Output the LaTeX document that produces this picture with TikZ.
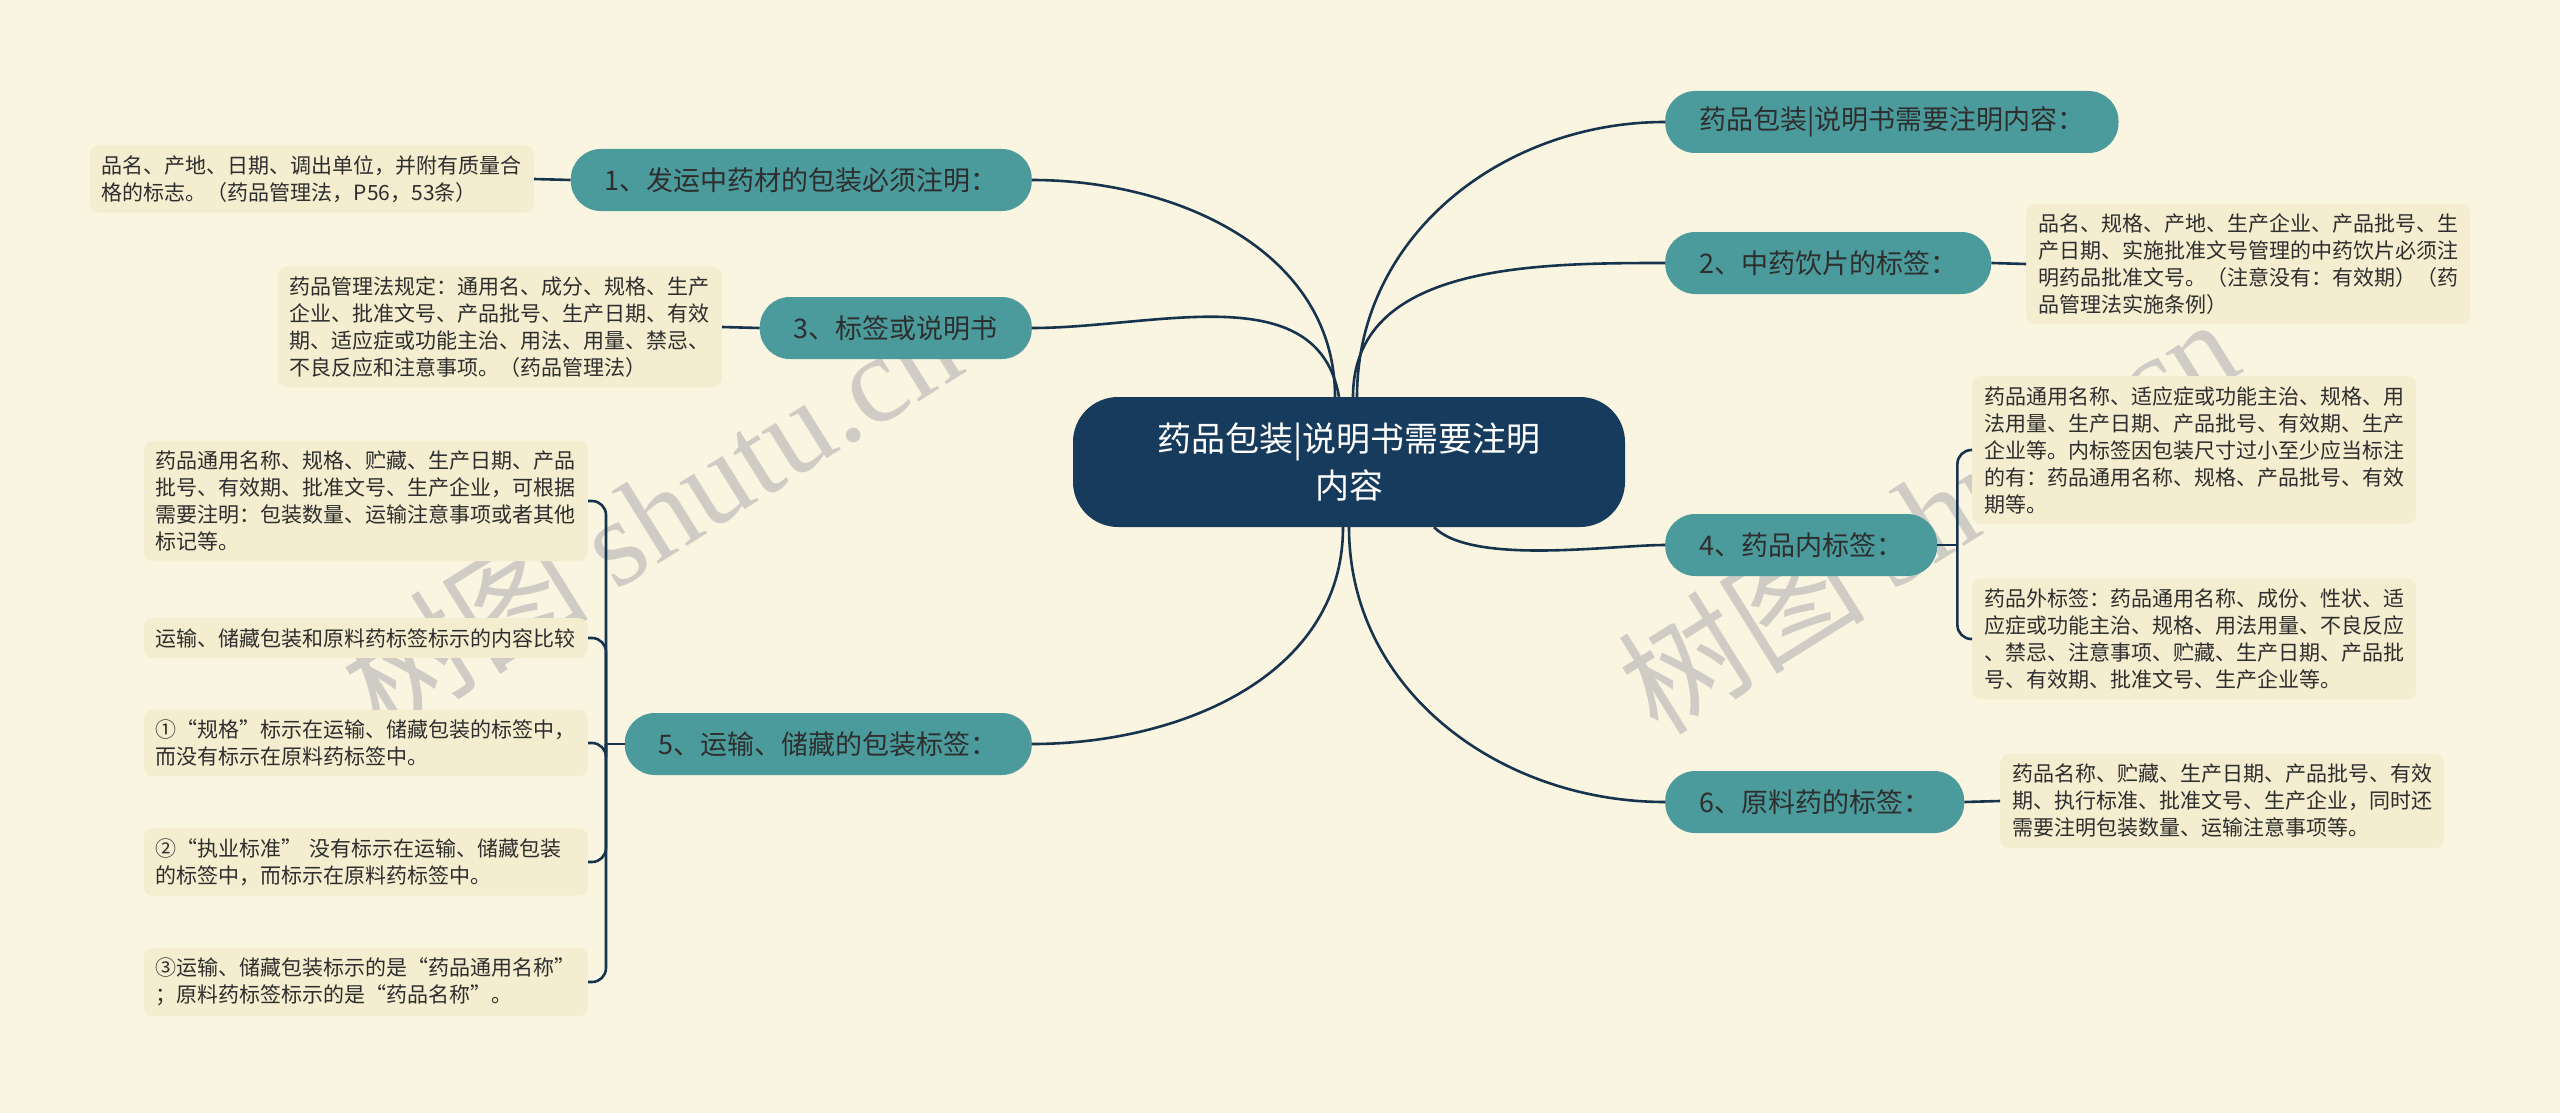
\documentclass[tikz,border=0pt]{standalone}
\usepackage{fontspec}
\setmainfont{Noto Sans CJK SC}
\newfontfamily\wmserif{Liberation Serif}
\usetikzlibrary{positioning}

\definecolor{bgcream}{HTML}{FAF5E0}
\definecolor{hubnavy}{HTML}{173B5C}
\definecolor{topicteal}{HTML}{4B9B9C}
\definecolor{notebeige}{HTML}{F4EDCF}
\definecolor{linknavy}{HTML}{17344F}
\definecolor{inkgray}{HTML}{2E2E2E}

\begin{document}
\begin{tikzpicture}[x=1pt, y=-1pt,
    hub/.style={rectangle, rounded corners=45pt, fill=hubnavy, text=white, align=center,
        minimum width=552pt, minimum height=130pt, font=\fontsize{34}{47}\selectfont},
    topic/.style={rectangle, rounded corners=30pt, fill=topicteal, text=inkgray,
        minimum height=62pt, inner xsep=34pt, font=\fontsize{27}{30}\selectfont},
    note/.style={rectangle, rounded corners=9pt, fill=notebeige, text=inkgray, align=left,
        text width=420pt, inner xsep=12pt, inner ysep=10pt, font=\fontsize{21}{27}\selectfont},
    link/.style={draw=linknavy, line width=2.6pt},
    watermark/.style={text=gray!60, opacity=0.6, rotate=32, font=\fontsize{124}{124}\selectfont}]

    % background and page size
    \fill[bgcream] (0,0) rectangle (2560,1113);
    \useasboundingbox (0,0) rectangle (2560,1113);

    \node[watermark] (wm_l) at (650,514) {树图 {\wmserif shutu.cn}};
    \node[watermark] (wm_r) at (1927,514) {树图 {\wmserif shutu.cn}};

    \node[hub] (hub) at (1349,462) {药品包装|说明书需要注明\\内容};

    % right side topics
    \node[topic, anchor=west] (t0) at (1665,122) {药品包装|说明书需要注明内容：};
    \node[topic, anchor=west] (t2) at (1665,263) {2、中药饮片的标签：};
    \node[topic, anchor=west] (t4) at (1665,545) {4、药品内标签：};
    \node[topic, anchor=west] (t6) at (1665,802) {6、原料药的标签：};

    % left side topics
    \node[topic, anchor=east] (t1) at (1032,180) {1、发运中药材的包装必须注明：};
    \node[topic, anchor=east] (t3) at (1032,328) {3、标签或说明书};
    \node[topic, anchor=east] (t5) at (1032,744) {5、运输、储藏的包装标签：};

    % notes
    \node[note, anchor=east] (n1) at (534,179) {品名、产地、日期、调出单位，并附有质量合\\格的标志。（药品管理法，P56，53条）};
    \node[note, anchor=east] (n3) at (722,327) {药品管理法规定：通用名、成分、规格、生产\\企业、批准文号、产品批号、生产日期、有效\\期、适应症或功能主治、用法、用量、禁忌、\\不良反应和注意事项。（药品管理法）};
    \node[note, anchor=east] (n5a) at (588,501) {药品通用名称、规格、贮藏、生产日期、产品\\批号、有效期、批准文号、生产企业，可根据\\需要注明：包装数量、运输注意事项或者其他\\标记等。};
    \node[note, anchor=east] (n5b) at (588,638) {运输、储藏包装和原料药标签标示的内容比较};
    \node[note, anchor=east] (n5c) at (588,743) {①“规格”标示在运输、储藏包装的标签中，\\而没有标示在原料药标签中。};
    \node[note, anchor=east] (n5d) at (588,862) {②“执业标准”\ 没有标示在运输、储藏包装\\的标签中，而标示在原料药标签中。};
    \node[note, anchor=east] (n5e) at (588,982) {③运输、储藏包装标示的是“药品通用名称”\\；原料药标签标示的是“药品名称”。};
    \node[note, anchor=west] (n2) at (2026,264) {品名、规格、产地、生产企业、产品批号、生\\产日期、实施批准文号管理的中药饮片必须注\\明药品批准文号。（注意没有：有效期）（药\\品管理法实施条例）};
    \node[note, anchor=west] (n4a) at (1972,450) {药品通用名称、适应症或功能主治、规格、用\\法用量、生产日期、产品批号、有效期、生产\\企业等。内标签因包装尺寸过小至少应当标注\\的有：药品通用名称、规格、产品批号、有效\\期等。};
    \node[note, anchor=west] (n4b) at (1972,639) {药品外标签：药品通用名称、成份、性状、适\\应症或功能主治、规格、用法用量、不良反应\\、禁忌、注意事项、贮藏、生产日期、产品批\\号、有效期、批准文号、生产企业等。};
    \node[note, anchor=west] (n6) at (2000,801) {药品名称、贮藏、生产日期、产品批号、有效\\期、执行标准、批准文号、生产企业，同时还\\需要注明包装数量、运输注意事项等。};

    \coordinate (b4) at ([xshift=20pt]t4.east);
    \coordinate (b5) at ([xshift=18pt]n5c.east |- t5.west);

    % hub to topics
    \draw[link] ([xshift=8pt]hub.north) to[out=90, in=180] (t0.west);
    \draw[link] ([xshift=4pt]hub.north) to[out=90, in=180] (t2.west);
    \draw[link] ([xshift=-14pt]hub.north) to[out=90, in=0] (t1.east);
    \draw[link] ([xshift=-10pt]hub.north) to[out=100, in=0] (t3.east);
    \draw[link] ([xshift=85pt]hub.south) to[out=-45, in=180, looseness=0.6] (t4.west);
    \draw[link] (hub.south) to[out=-90, in=180] (t6.west);
    \draw[link] ([xshift=-6pt]hub.south) to[out=-90, in=0] (t5.east);

    % topics to notes
    \draw[link] (t1.west) -- (n1.east);
    \draw[link] (t3.west) -- (n3.east);
    \draw[link] (t2.east) -- (n2.west);
    \draw[link] (t6.east) -- (n6.west);
    \draw[link] (t4.east) -- (b4);
    \draw[link, rounded corners=14pt] (b4) |- (n4a.west);
    \draw[link, rounded corners=14pt] (b4) |- (n4b.west);
    \draw[link] (t5.west) -- (b5);
    \foreach \n in {n5a, n5b, n5c, n5d, n5e}
        \draw[link, rounded corners=14pt] (b5) |- (\n.east);
\end{tikzpicture}
\end{document}
